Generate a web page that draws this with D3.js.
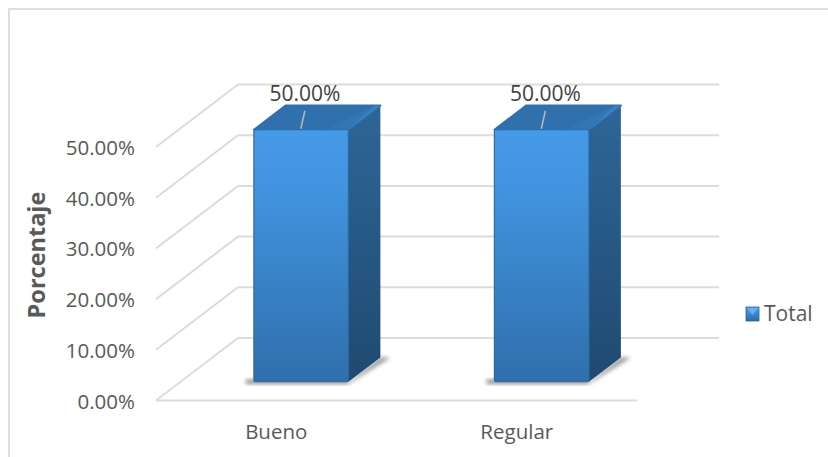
<!DOCTYPE html>
<html><head><meta charset="utf-8">
<script src="https://cdn.jsdelivr.net/npm/d3@7"></script>
<style>html,body{margin:0;padding:0;background:#fff}svg{display:block}text{font-family:"Open Sans",sans-serif}</style>
</head><body><div id="c"></div>
<script>
const categories = ["Bueno", "Regular"];
const values = [0.5, 0.5];
const tickValues = [0, 0.1, 0.2, 0.3, 0.4, 0.5];
const seriesName = "Total";
const axisTitle = "Porcentaje";

const W = 828, H = 457;
const svg = d3.select("#c").append("svg").attr("width", W).attr("height", H);
const defs = svg.append("defs");
function grad(id, stops){
  const g = defs.append("linearGradient").attr("id", id).attr("x1",0).attr("y1",0).attr("x2",0).attr("y2",1);
  stops.forEach(([o,c])=>g.append("stop").attr("offset",o).attr("stop-color",c));
}
grad("front", [[0,"#459ae8"],[0.25,"#4193de"],[1,"#2f6fac"]]);
grad("side", [[0,"#2e6698"],[1,"#1f4a71"]]);
grad("lg", [[0,"#4aa3ee"],[1,"#2c6ba6"]]);
defs.append("filter").attr("id","blur").attr("x","-20%").attr("y","-50%").attr("width","140%").attr("height","200%")
  .append("feGaussianBlur").attr("stdDeviation",2);

// frame
svg.append("path").attr("d",`M9,${H}V9H${W}`).attr("fill","none").attr("stroke","#dedede").attr("stroke-width",2);

const x = d3.scaleBand().domain(categories).range([156,637]);
const y = d3.scaleLinear().domain([0,0.5]).range([400.5,147]);
const barY = d3.scaleLinear().domain([0,0.5]).range([400.5,148.5]);
const depthX = d3.scaleLinear().domain([0,1]).range([0,82]);
const depthY = d3.scaleLinear().domain([0,1]).range([0,-62.5]);
const P = (px, v, z) => [px + depthX(z), y(v) + depthY(z)];
const B = (px, v, z) => [px + depthX(z), barY(v) + depthY(z)];
const line = d3.line();

// gridlines
const gridColor = "#dcdcdc";
tickValues.forEach(t=>{
  svg.append("path").attr("fill","none").attr("stroke",gridColor).attr("stroke-width",2)
    .attr("d", line([P(156,t,0), P(156,t,1), [719,P(156,t,1)[1]]]));
});
svg.append("path").attr("fill","none").attr("stroke",gridColor).attr("stroke-width",2)
  .attr("d", line([P(156,0,0), P(637,0,0)]));

// bars
const barW = 94.5, z0 = 0.3, z1 = 0.69;
categories.forEach((c,i)=>{
  const cx = x(c)+x.bandwidth()/2;
  const l = cx-barW/2+0.3, r = l+barW, v = values[i];
  const g = svg.append("g");
  const fl = B(l,0,z0), fr = B(r,0,z0);
  // floor shadow
  g.append("path").attr("fill","#555").attr("opacity",0.75).attr("filter","url(#blur)")
    .attr("d", line([[fl[0]-8,fl[1]-2],[fr[0],fr[1]-2],[fr[0],fr[1]+2],[fl[0]-8,fl[1]+2]])+"Z");
  g.append("path").attr("fill","#666").attr("opacity",0.7).attr("filter","url(#blur)")
    .attr("d", line([B(r,0,z0),B(r,0,z1),B(r+10,0,z1),B(r+3,0,z0-0.02)])+"Z");
  g.append("path").attr("fill","url(#side)").attr("d", line([B(r,0,z0),B(r,v,z0),B(r,v,z1),B(r,0,z1)])+"Z");
  g.append("path").attr("fill","#2f70ad").attr("stroke","#2f70ad").attr("stroke-linejoin","round").attr("stroke-width",2)
    .attr("d", line([B(l,v,z0),B(r,v,z0),B(r,v,z1),B(l,v,z1)])+"Z");
  g.append("path").attr("fill","#3a80c2").attr("d", line([B(r-6,v,z1),B(r,v,z0),B(r,v,z1)])+"Z");
  g.append("path").attr("fill","#3a80c2").attr("d", line([B(r-24,v,z0),B(r,v,z0),B(r,v,z1),B(r-6,v,z1)])+"Z").attr("opacity",0.35);
  const ft = B(l,v,z0);
  g.append("rect").attr("x",ft[0]).attr("y",ft[1]).attr("width",barW).attr("height",barY(0)-barY(v)).attr("rx",1.5)
    .attr("fill","url(#front)").attr("stroke","#2d6aa3").attr("stroke-width",1.2);
  // leader line + label
  const tx = cx+depthX(z0), ty = ft[1];
  g.append("line").attr("x1",tx).attr("y1",ty-1).attr("x2",tx+4).attr("y2",ty-19)
    .attr("stroke","#b5b9bd").attr("stroke-width",1.5);
  svg.append("text").attr("x",tx+4).attr("y",101).attr("text-anchor","middle").attr("font-size",21)
    .attr("fill","#404040").text(d3.format(".2%")(v));
  svg.append("text").attr("x",cx).attr("y",439).attr("text-anchor","middle").attr("font-size",20.5)
    .attr("fill","#595959").text(c);
});

// y tick labels
tickValues.forEach(t=>{
  svg.append("text").attr("x",135).attr("y",y(t)+8).attr("text-anchor","end").attr("font-size",20.5)
    .attr("fill","#595959").text(d3.format(".2%")(t));
});
svg.append("text").attr("transform","translate(45,255) rotate(-90)").attr("text-anchor","middle")
  .attr("font-size",23.5).attr("font-weight",700).attr("fill","#595959").text(axisTitle);

// legend
svg.append("rect").attr("x",746).attr("y",307).attr("width",13).attr("height",14).attr("fill","url(#lg)").attr("stroke","#2a6296").attr("stroke-width",0.8);
svg.append("path").attr("d","M747,308H758L752.5,315Z").attr("fill","#5cb4f2");
svg.append("text").attr("x",764).attr("y",321).attr("font-size",21).attr("fill","#595959").text(seriesName);
</script></body></html>
